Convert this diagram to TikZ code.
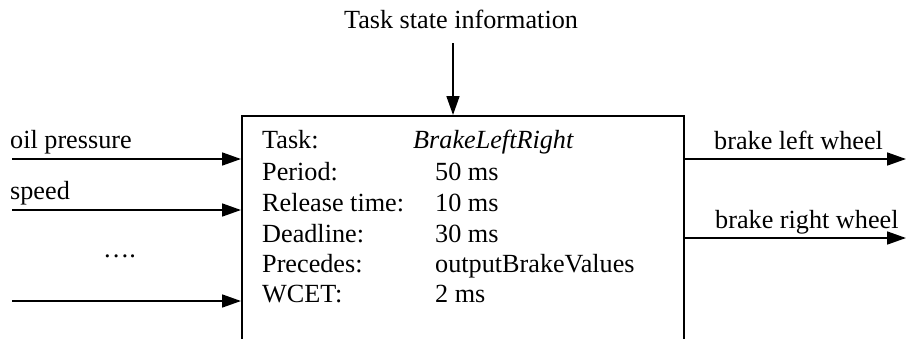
\documentclass[tikz,border=0pt]{standalone}
\usepackage{fontspec}
\setmainfont{Liberation Serif}
\usetikzlibrary{arrows.meta}
\tikzset{
  arr/.style={line width=1.7pt,-{Triangle[length=19pt,width=13pt]}},
  lbl/.style={anchor=base west,inner sep=0pt,font=\fontsize{26.2}{31}\selectfont},
  boxline/.style={line width=1.7pt},
}
\begin{document}
\begin{tikzpicture}[x=1pt,y=-1pt]
\useasboundingbox (0,0) rectangle (907,338);
\clip (0,0) rectangle (907,338);
% task box (open at the bottom of the picture)
\node[boxline,draw,rectangle,anchor=north west,minimum width=442pt,minimum height=260pt,inner sep=0pt] (task) at (241,115) {};
% top input
\node[lbl,anchor=base] (tsi) at (461,28) {Task state information};
\coordinate (topstart) at (453,43);
\draw[arr] (topstart) -- (topstart |- task.north);
% left inputs
\coordinate (in1) at (12,159);
\coordinate (in2) at (12,210);
\coordinate (in3) at (12,301);
\draw[arr] (in1) -- (in1 -| task.west);
\draw[arr] (in2) -- (in2 -| task.west);
\draw[arr] (in3) -- (in3 -| task.west);
\node[lbl] (oil) at (10,148) {oil pressure};
\node[lbl] (spd) at (10,199) {speed};
\node[lbl] (dots) at (103,257) {….};
% right outputs
\coordinate (out1) at (906,159);
\coordinate (out2) at (906,238);
\draw[arr] (out1 -| task.east) -- (out1);
\draw[arr] (out2 -| task.east) -- (out2);
\node[lbl] (blw) at (714,149) {brake left wheel};
\node[lbl] (brw) at (715,228) {brake right wheel};
% box contents
\node[lbl] (k1) at (262,148) {Task:};
\node[lbl] (k2) at (262,180) {Period:};
\node[lbl] (k3) at (262,211) {Release time:};
\node[lbl] (k4) at (262,242) {Deadline:};
\node[lbl] (k5) at (262,272) {Precedes:};
\node[lbl] (k6) at (262,302) {WCET:};
\node[lbl] (v1) at (413,148) {\itshape BrakeLeftRight};
\node[lbl] (v2) at (435,180) {50 ms};
\node[lbl] (v3) at (435,211) {10 ms};
\node[lbl] (v4) at (435,242) {30 ms};
\node[lbl] (v5) at (435,272) {outputBrakeValues};
\node[lbl] (v6) at (435,302) {2 ms};
\end{tikzpicture}
\end{document}
